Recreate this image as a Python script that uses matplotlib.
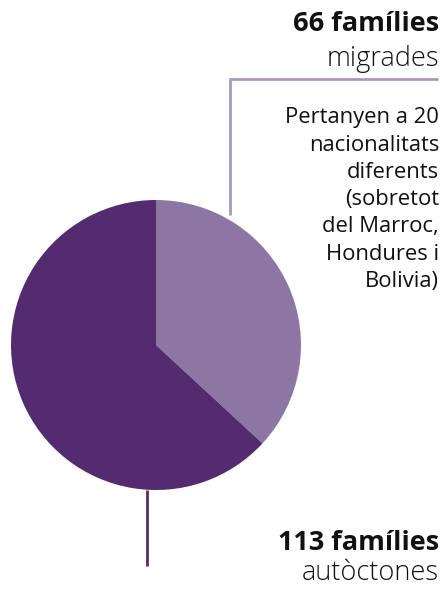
import matplotlib
matplotlib.use("Agg")
import matplotlib.pyplot as plt

# Data
labels = ["migrades", "autòctones"]
values = [66, 113]
colors = ["#8C77A4", "#552B6F"]
title_top = "66 famílies"
sub_top = "migrades"
note_lines = ["Pertanyen a 20", "nacionalitats", "diferents", "(sobretot",
              "del Marroc,", "Hondures i", "Bolivia)"]
title_bot = "113 famílies"
sub_bot = "autòctones"

W, H = 444, 595
fig = plt.figure(figsize=(W / 100, H / 100), dpi=100)
ax = fig.add_axes([0, 0, 1, 1])

def Y(y):
    return H - y

ax.pie(values, colors=colors, startangle=90, counterclock=False,
       center=(156, Y(345)), radius=145, frame=False,
       wedgeprops=dict(linewidth=0))

# connector lines
ax.plot([230, 230], [Y(79), Y(215)], color="#A898BE", lw=2, solid_capstyle="butt", zorder=0)
ax.plot([229, 438], [Y(79), Y(79)], color="#A898BE", lw=2, solid_capstyle="butt", zorder=0)
ax.plot([147, 147], [Y(490), Y(566)], color="#552B6F", lw=2, solid_capstyle="butt", zorder=0)

fam = ["Open Sans", "DejaVu Sans"]
xr = 439
ax.text(xr, Y(24), title_top, ha="right", va="center", fontsize=19.5,
        fontweight="bold", family=fam, color="#111111")
ax.text(xr, Y(59), sub_top, ha="right", va="center", fontsize=19.5,
        fontweight="light", family=fam, color="#111111")
for i, line in enumerate(note_lines):
    ax.text(xr, Y(118 + 27.2 * i), line, ha="right", va="center", fontsize=15.8,
            family=fam, color="#111111")
ax.text(xr, Y(543), title_bot, ha="right", va="center", fontsize=19.5,
        fontweight="bold", family=fam, color="#111111")
ax.text(xr, Y(573), sub_bot, ha="right", va="center", fontsize=19.5,
        fontweight="light", family=fam, color="#111111")

ax.set_xlim(0, W)
ax.set_ylim(0, H)
ax.set_aspect("auto")
ax.axis("off")
fig.savefig("out.png", dpi=100)
